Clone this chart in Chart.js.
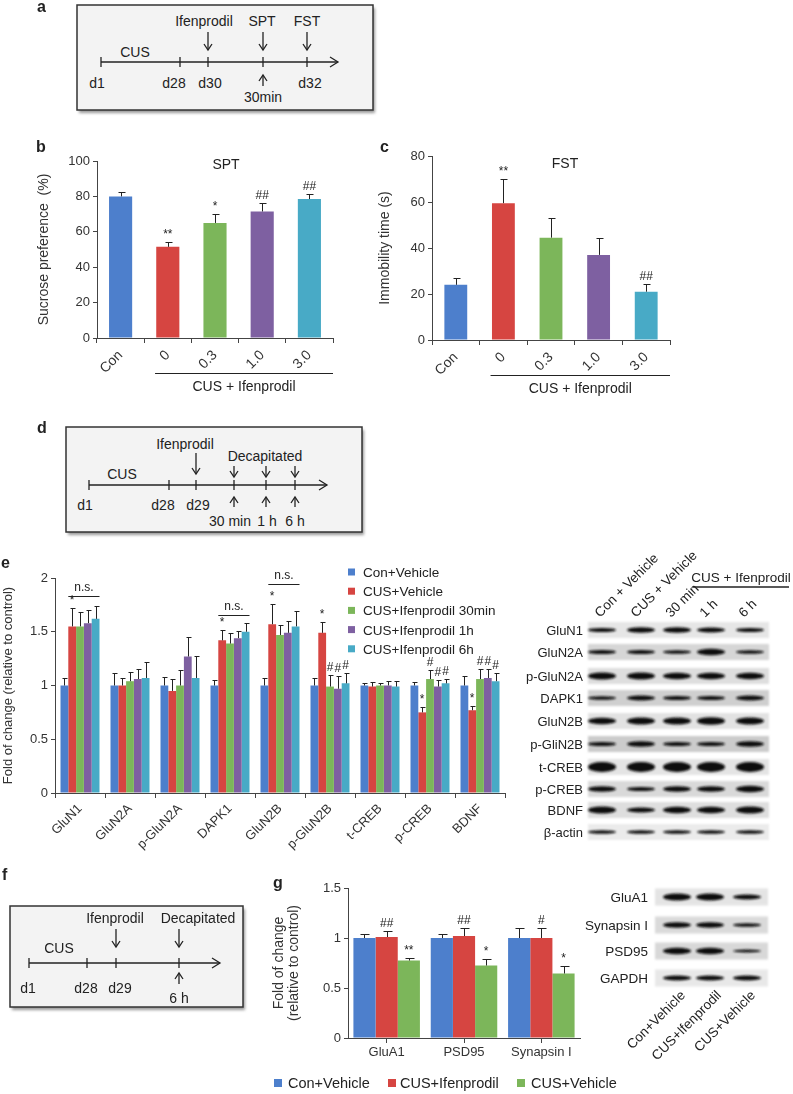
<!DOCTYPE html>
<html>
<head>
<meta charset="utf-8">
<script src="https://cdn.jsdelivr.net/npm/chart.js@4.4.1/dist/chart.umd.min.js"></script>
<style>
  body { margin: 0; background: #fff; font-family: "Liberation Sans", Arial, sans-serif; }
  #fig { position: relative; width: 793px; height: 1094px; overflow: hidden; }
  .cv { position: absolute; }
  #overlay { position: absolute; left: 0; top: 0; pointer-events: none; }
  #overlay text { font-family: "Liberation Sans", Arial, sans-serif; fill: #222; }
</style>
</head>
<body>
<div id="fig">
  <div class="cv" style="left:30px;top:150px;width:310px;height:250px"><canvas id="chartB"></canvas></div>
  <div class="cv" style="left:378px;top:145px;width:297px;height:255px"><canvas id="chartC"></canvas></div>
  <div class="cv" style="left:0px;top:560px;width:510px;height:300px"><canvas id="chartE"></canvas></div>
  <div class="cv" style="left:270px;top:875px;width:320px;height:185px"><canvas id="chartG"></canvas></div>
  <svg id="overlay" width="793" height="1094"></svg>
</div>
<script>
// ---- data: panels b and c ----
const doseLabels = ['Con', '0', '0.3', '1.0', '3.0'];
const sptMean = [80, 51.5, 65, 71.5, 78.5];
const sptSem = [2.5, 3, 5, 5, 3];
const sptMarks = ['', '**', '*', '##', '##'];
const fstMean = [24, 59.5, 44.5, 37, 21];
const fstSem = [3, 10.5, 8.5, 7.5, 3.5];
const fstMarks = ['', '**', '', '', '##'];

// ---- data: panel e ----
const proteinLabels = ['GluN1', 'GluN2A', 'p-GluN2A', 'DAPK1', 'GluN2B', 'p-GluN2B', 't-CREB', 'p-CREB', 'BDNF'];
const eSeries = ['Con+Vehicle', 'CUS+Vehicle', 'CUS+Ifenprodil 30min', 'CUS+Ifenprodil 1h', 'CUS+Ifenprodil 6h'];
const conVehicle = [1, 1, 1, 1, 1, 1, 1, 1, 1];
const conVehicleErr = [0.07, 0.12, 0.08, 0.05, 0.07, 0.07, 0.02, 0.03, 0.09];
const cusVehicle = [1.55, 1.0, 0.95, 1.42, 1.57, 1.49, 0.99, 0.75, 0.77];
const cusVehicleErr = [0.17, 0.07, 0.11, 0.10, 0.19, 0.10, 0.04, 0.05, 0.04];
const ifen30 = [1.55, 1.04, 1.0, 1.39, 1.47, 0.99, 1.0, 1.06, 1.06];
const ifen30Err = [0.13, 0.09, 0.14, 0.10, 0.09, 0.11, 0.02, 0.08, 0.09];
const ifen1h = [1.58, 1.06, 1.27, 1.44, 1.49, 0.97, 1.0, 0.99, 1.07];
const ifen1hErr = [0.12, 0.09, 0.18, 0.07, 0.11, 0.12, 0.04, 0.06, 0.08];
const ifen6h = [1.62, 1.07, 1.07, 1.50, 1.55, 1.02, 0.99, 1.02, 1.04];
const ifen6hErr = [0.12, 0.15, 0.20, 0.08, 0.14, 0.10, 0.05, 0.04, 0.08];
const cusVehicleMarks = ['*', '', '', '*', '*', '*', '', '*', '*'];
const ifenMarks = ['', '', '', '', '', '#', '', '#', '#'];
const nsBrackets = [[0, 1.83], [3, 1.66], [4, 1.94]]; // [category, level]

// ---- data: panel g ----
const synLabels = ['GluA1', 'PSD95', 'Synapsin I'];
const gSeries = ['Con+Vehicle', 'CUS+Ifenprodil', 'CUS+Vehicle'];
const gCon = [1.0, 1.0, 1.0];
const gConErr = [0.04, 0.04, 0.10];
const gIfen = [1.01, 1.02, 1.0];
const gIfenErr = [0.06, 0.08, 0.10];
const gVeh = [0.775, 0.725, 0.645];
const gVehErr = [0.025, 0.065, 0.07];
const gIfenMarks = ['##', '##', '#'];
const gVehMarks = ['**', '*', '*'];

const COLORS = ['#4d7fcc', '#d64541', '#7cb65a', '#7e60a1', '#48aac6'];
const FONT = '"Liberation Sans", Arial, Helvetica, sans-serif';
Chart.defaults.font.family = FONT;
Chart.defaults.color = '#333';

// error bars, significance marks, n.s. brackets and group label
function annotations(o) {
  return {
    id: 'annot',
    afterDatasetsDraw(chart) {
      const { ctx } = chart, x = chart.scales.x, y = chart.scales.y;
      ctx.save();
      ctx.strokeStyle = '#222'; ctx.fillStyle = '#222'; ctx.lineWidth = 1;
      ctx.textAlign = 'center'; ctx.textBaseline = 'bottom';
      ctx.font = `${o.markFont || 12}px ${FONT}`;
      chart.data.datasets.forEach((ds, i) => {
        chart.getDatasetMeta(i).data.forEach((bar, j) => {
          const top = Math.round(y.getPixelForValue(ds.data[j] + ds.errors[j])) + 0.5;
          const bx = Math.round(bar.x) + 0.5;
          ctx.beginPath();
          ctx.moveTo(bx, bar.y); ctx.lineTo(bx, top);
          ctx.moveTo(bx - o.cap, top); ctx.lineTo(bx + o.cap + 1, top);
          ctx.stroke();
          const m = ds.marks && ds.marks[j];
          if (m) ctx.fillText(m, bar.x, top - 2);
        });
      });
      (o.brackets || []).forEach(([cat, level]) => {
        const b0 = chart.getDatasetMeta(1).data[cat], b1 = chart.getDatasetMeta(4).data[cat];
        const x0 = b0.x - b0.width / 2, x1 = b1.x + b1.width / 2;
        const py = Math.round(y.getPixelForValue(level)) + 0.5;
        ctx.beginPath(); ctx.moveTo(x0, py); ctx.lineTo(x1, py); ctx.stroke();
        ctx.fillText('n.s.', (x0 + x1) / 2, py - 3);
      });
      if (o.group) {
        const catW = (x.right - x.left) / chart.data.labels.length;
        const x0 = x.getPixelForValue(o.group.from) - catW * 0.27, x1 = x.right;
        const ly = chart.chartArea.bottom + 35.5;
        ctx.beginPath(); ctx.moveTo(x0, ly); ctx.lineTo(x1, ly); ctx.stroke();
        ctx.font = `14px ${FONT}`;
        ctx.fillText(o.group.text, (x0 + x1) / 2, chart.chartArea.bottom + 56);
      }
      ctx.restore();
    }
  };
}

function barChart(id, o) {
  return new Chart(document.getElementById(id), {
    type: 'bar',
    data: { labels: o.labels, datasets: o.datasets },
    options: {
      animation: false, responsive: true, maintainAspectRatio: false,
      layout: { padding: o.padding },
      plugins: { legend: { display: false }, tooltip: { enabled: false } },
      scales: {
        x: {
          grid: { drawOnChartArea: false, tickLength: 5, offset: o.gridOffset, color: '#444' },
          border: { color: '#444' },
          ticks: { font: { size: o.xFont }, color: '#333', maxRotation: o.rot, minRotation: o.rot, autoSkip: false, padding: o.xPad },
          afterFit: s => { s.height = o.xHeight; }
        },
        y: {
          min: o.min, max: o.max,
          grid: { drawOnChartArea: false, tickLength: 4, color: '#444' },
          border: { color: '#444' },
          ticks: { stepSize: o.step, font: { size: o.yFont }, color: '#333', padding: 3, callback: v => String(+v.toFixed(2)) },
          title: { display: true, text: o.title, color: '#333', font: { size: o.titleFont, lineHeight: 1.05 }, padding: { top: o.titlePad, bottom: 0 } },
          afterFit: s => { s.width = o.yWidth; }
        }
      }
    },
    plugins: [annotations(o)]
  });
}

// b: SPT
barChart('chartB', {
  labels: doseLabels,
  datasets: [{ data: sptMean, errors: sptSem, marks: sptMarks, backgroundColor: COLORS, barPercentage: 0.49, categoryPercentage: 1 }],
  padding: { top: 11, right: 7, left: 0, bottom: 0 }, yWidth: 67, xHeight: 62,
  min: 0, max: 100, step: 20, title: 'Sucrose preference  (%)', titleFont: 14, titlePad: 7,
  xFont: 14, yFont: 13, rot: 45, xPad: 4, gridOffset: true, cap: 3,
  group: { from: 1, text: 'CUS + Ifenprodil' }
});

// c: FST
barChart('chartC', {
  labels: doseLabels,
  datasets: [{ data: fstMean, errors: fstSem, marks: fstMarks, backgroundColor: COLORS, barPercentage: 0.48, categoryPercentage: 1 }],
  padding: { top: 11, right: 5, left: 0, bottom: 0 }, yWidth: 54, xHeight: 60,
  min: 0, max: 80, step: 20, title: 'Immobility time (s)', titleFont: 14, titlePad: 0,
  xFont: 14, yFont: 13, rot: 45, xPad: 4, gridOffset: true, cap: 3,
  group: { from: 1, text: 'CUS + Ifenprodil' }
});

// e: protein levels
const eValues = [conVehicle, cusVehicle, ifen30, ifen1h, ifen6h];
const eErrors = [conVehicleErr, cusVehicleErr, ifen30Err, ifen1hErr, ifen6hErr];
const eMarks = [null, cusVehicleMarks, ifenMarks, ifenMarks, ifenMarks];
barChart('chartE', {
  labels: proteinLabels,
  datasets: eSeries.map((name, i) => ({
    label: name, data: eValues[i], errors: eErrors[i], marks: eMarks[i],
    backgroundColor: COLORS[i], barPercentage: 1, categoryPercentage: 0.78
  })),
  padding: { top: 18, right: 5, left: 0, bottom: 0 }, yWidth: 55, xHeight: 67,
  min: 0, max: 2, step: 0.5, title: 'Fold of change (relative to control)', titleFont: 13, titlePad: 2,
  xFont: 13, yFont: 13, rot: 45, xPad: 3, gridOffset: true, cap: 2,
  brackets: nsBrackets
});

// g: synaptic proteins
const gValues = [gCon, gIfen, gVeh];
const gErrors = [gConErr, gIfenErr, gVehErr];
const gMarks = [null, gIfenMarks, gVehMarks];
const gColors = [COLORS[0], COLORS[1], COLORS[2]];
barChart('chartG', {
  labels: synLabels,
  datasets: gSeries.map((name, i) => ({
    label: name, data: gValues[i], errors: gErrors[i], marks: gMarks[i],
    backgroundColor: gColors[i], barPercentage: 1, categoryPercentage: 0.86
  })),
  padding: { top: 13, right: 10, left: 0, bottom: 0 }, yWidth: 78, xHeight: 22,
  min: 0, max: 1.5, step: 0.5, title: ['Fold of change', '(relative to control)'], titleFont: 14, titlePad: 2,
  xFont: 13, yFont: 13, rot: 0, xPad: 2, gridOffset: false, cap: 4
});

// ---- overlay: letters, titles, legends, schemes, blots ----
const parts = [];
const T = (s, x, y, size, anchor = 'middle', extra = '') =>
  parts.push(`<text x="${x}" y="${y}" font-size="${size}" text-anchor="${anchor}" ${extra}>${s}</text>`);
const L = (x1, y1, x2, y2, w = 1.3) =>
  parts.push(`<line x1="${x1}" y1="${y1}" x2="${x2}" y2="${y2}" stroke="#222" stroke-width="${w}"/>`);
const P = (pts) => parts.push(`<polyline points="${pts}" fill="none" stroke="#222" stroke-width="1.3"/>`);
const down = (x, y1, y2) => { L(x, y1, x, y2); P(`${x - 4},${y2 - 6} ${x},${y2} ${x + 4},${y2 - 6}`); };
const up = (x, y1, y2) => { L(x, y1, x, y2); P(`${x - 4},${y1 + 6} ${x},${y1} ${x + 4},${y1 + 6}`); };

parts.push(`<defs>
  <filter id="sh" x="-5%" y="-5%" width="115%" height="120%"><feGaussianBlur stdDeviation="1.5"/></filter>
  <filter id="soft" x="-10%" y="-50%" width="120%" height="200%"><feGaussianBlur stdDeviation="0.8"/></filter>
  <filter id="band" x="-20%" y="-100%" width="140%" height="300%"><feGaussianBlur stdDeviation="1.1"/></filter>
</defs>`);

function scheme(s) {
  const [bx, by, bw, bh] = s.box;
  parts.push(`<rect x="${bx + 2}" y="${by + 3}" width="${bw}" height="${bh}" fill="#999" filter="url(#sh)"/>`);
  parts.push(`<rect x="${bx}" y="${by}" width="${bw}" height="${bh}" fill="#f3f3f3" stroke="#333" stroke-width="1.5"/>`);
  L(s.x0, s.axis, s.x1, s.axis);
  P(`${s.x1 - 8},${s.axis - 5} ${s.x1},${s.axis} ${s.x1 - 8},${s.axis + 5}`);
  s.ticks.forEach(t => L(t, s.axis - 5, t, s.axis + 5));
  s.texts.forEach(([str, x, y]) => T(str, x, y, 14));
  s.down.forEach(([x, a, b]) => down(x, a, b));
  s.up.forEach(([x, a, b]) => up(x, a, b));
}

// a
scheme({ box: [77, 5, 296, 105], axis: 62, x0: 101, x1: 338, ticks: [101, 180, 208, 263, 307],
  texts: [['CUS', 135, 57], ['Ifenprodil', 204, 26], ['SPT', 262, 26], ['FST', 307, 26],
          ['d1', 97, 88], ['d28', 174, 88], ['d30', 210, 88], ['d32', 310, 88], ['30min', 263, 102]],
  down: [[208, 32, 50], [263, 32, 50], [307, 32, 50]], up: [[263, 75, 86]] });
// d
scheme({ box: [66, 427, 296, 105], axis: 485, x0: 89, x1: 327, ticks: [89, 169, 196, 234, 266, 295],
  texts: [['Ifenprodil', 185, 449], ['Decapitated', 265, 461], ['CUS', 122, 479],
          ['d1', 85, 510], ['d28', 163, 510], ['d29', 198, 510], ['30 min', 230, 526], ['1 h', 267, 526], ['6 h', 295, 526]],
  down: [[196, 453, 474], [234, 466, 477], [266, 466, 477], [295, 466, 477]],
  up: [[234, 497, 507], [266, 497, 507], [295, 497, 507]] });
// f
scheme({ box: [10, 906, 233, 101], axis: 963, x0: 29, x1: 220, ticks: [29, 87, 116, 179],
  texts: [['Ifenprodil', 115, 923], ['Decapitated', 198, 923], ['CUS', 59, 953],
          ['d1', 28, 993], ['d28', 86, 993], ['d29', 120, 993], ['6 h', 179, 1003]],
  down: [[116, 929, 947], [179, 929, 947]], up: [[179, 973, 984]] });

// panel letters
[['a', 37, 12], ['b', 36, 152], ['c', 380, 152], ['d', 37, 433], ['e', 1, 568], ['f', 2, 880], ['g', 273, 888]]
  .forEach(([s, x, y]) => T(s, x, y, 16, 'start', 'font-weight="bold"'));
T('SPT', 226, 169, 14);
T('FST', 565, 168, 14);

// legend e
eSeries.forEach((name, i) => {
  const cy = 572 + i * 19.2;
  parts.push(`<rect x="348" y="${cy - 3.5}" width="7" height="7" fill="${COLORS[i]}"/>`);
  T(name, 363, cy + 5, 13.5, 'start');
});
// legend g
[[274, 288], [388, 400], [517, 531]].forEach(([sx, tx], i) => {
  parts.push(`<rect x="${sx}" y="1079" width="8" height="8" fill="${gColors[i]}"/>`);
  T(gSeries[i], tx, 1088, 14.5, 'start');
});

// western blots
function blot(rows, lanes, x0, x1, labelX, h, fs) {
  rows.forEach(([label, y, bg, thick]) => {
    T(label, labelX, y + 5, fs, 'end');
    parts.push(`<rect x="${x0}" y="${y - h / 2}" width="${x1 - x0}" height="${h}" fill="${bg}" filter="url(#soft)"/>`);
    lanes.forEach((lx, k) =>
      parts.push(`<ellipse cx="${lx}" cy="${y}" rx="14" ry="${thick[k] * 0.7}" fill="#111" filter="url(#band)"/>`));
  });
}
blot([
  ['GluN1', 630, '#e6e6e6', [3, 4, 4, 3.5, 3]],
  ['GluN2A', 652, '#d6d6d6', [3, 3, 2.5, 4.5, 2.5]],
  ['p-GluN2A', 676, '#dedede', [5, 5, 4.5, 4.5, 4.5]],
  ['DAPK1', 698, '#cfcfcf', [2.5, 3.5, 3, 3, 3.5]],
  ['GluN2B', 721, '#e2e2e2', [4.5, 5, 5, 5.5, 5]],
  ['p-GliN2B', 744, '#cbcbcb', [3, 4, 3, 3, 4]],
  ['t-CREB', 767, '#e4e4e4', [7, 7, 7, 7, 7]],
  ['p-CREB', 789, '#d9d9d9', [4, 3, 4, 4, 4.5]],
  ['BDNF', 810, '#dedede', [5, 3.5, 4.5, 4.5, 5]],
  ['β-actin', 832, '#ebebeb', [2.5, 2.5, 2.5, 2.5, 2.5]]
], [602, 641, 677, 711, 750], 588, 769, 583, 16, 13);
blot([
  ['GluA1', 897, '#e4e4e4', [5, 5, 3.5]],
  ['Synapsin I', 925, '#dadada', [4, 4, 2.5]],
  ['PSD95', 951, '#d8d8d8', [4.5, 4.5, 2]],
  ['GAPDH', 978, '#e8e8e8', [3.5, 3.5, 3.5]]
], [677, 710, 747], 655, 768, 648, 17, 13.5);

// blot column headers
[['Con + Vehicle', 600], ['CUS + Vehicle', 636], ['30 min', 671], ['1 h', 705], ['6 h', 744]]
  .forEach(([s, x]) => T(s, x, 618, 13.5, 'start', `transform="rotate(-45 ${x} 618)"`));
T('CUS + Ifenprodil', 741, 582, 13.5);
L(693, 587, 789, 587, 1.4);
[['Con+Vehicle', 686], ['CUS+Ifenprodil', 722], ['CUS+Vehicle', 756]]
  .forEach(([s, x]) => T(s, x, 996, 13.5, 'end', `transform="rotate(-45 ${x} 996)"`));

document.getElementById('overlay').innerHTML = parts.join('\n');
</script>
</body>
</html>
